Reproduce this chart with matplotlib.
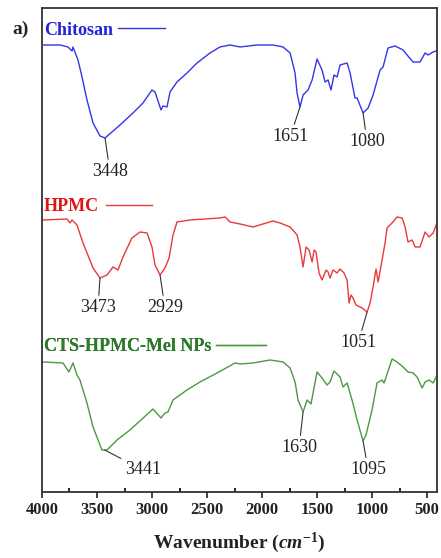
import matplotlib
matplotlib.use("Agg")
import matplotlib.pyplot as plt
from matplotlib.lines import Line2D

plt.rcParams['font.family'] = 'Liberation Serif'
plt.rcParams['mathtext.fontset'] = 'custom'
plt.rcParams['mathtext.rm'] = 'Liberation Serif:bold'
plt.rcParams['mathtext.it'] = 'Liberation Serif:italic:bold'

# FTIR spectra, stacked with arbitrary offsets (transmittance, a.u.)
wn_cts = [3988, 3836, 3764, 3727, 3718, 3673, 3636, 3591, 3536, 3473, 3427, 3364,
          3291, 3173, 3082, 3000, 2973, 2918, 2900, 2864, 2836, 2773, 2682, 2591,
          2473, 2382, 2291, 2200, 2045, 1900, 1809, 1745, 1700, 1682, 1655, 1627,
          1582, 1545, 1500, 1455, 1427, 1400, 1373, 1346, 1318, 1291, 1227, 1200,
          1155, 1136, 1082, 1036, 991, 927, 900, 855, 791, 718, 682, 627,
          564, 518, 491, 445, 391]
t_cts = [455, 455, 453, 449, 453, 440, 423, 400, 377, 364, 362, 368,
         375, 387, 397, 410, 408, 390, 394, 393, 408, 418, 427, 437,
         447, 453, 455, 453, 455, 455, 453, 447, 427, 407, 393, 405,
         410, 420, 441, 430, 418, 420, 410, 425, 423, 435, 437, 427,
         402, 402, 387, 392, 405, 430, 433, 452, 454, 450, 445, 438,
         438, 447, 445, 448, 450]

wn_hpmc = [3991, 3773, 3745, 3727, 3682, 3627, 3536, 3473, 3409, 3355, 3309, 3264,
           3182, 3109, 3045, 3000, 2973, 2927, 2882, 2845, 2809, 2773, 2655, 2382,
           2336, 2291, 2200, 2082, 1991, 1900, 1836, 1745, 1682, 1655, 1627, 1600,
           1573, 1545, 1527, 1509, 1482, 1455, 1418, 1400, 1382, 1355, 1318, 1291,
           1255, 1227, 1209, 1191, 1173, 1146, 1091, 1045, 1018, 991, 964, 945,
           909, 882, 864, 818, 773, 727, 700, 673, 636, 609, 564, 518,
           482, 445, 400]
t_hpmc = [280, 281, 277, 280, 275, 257, 232, 222, 225, 233, 230, 243,
          262, 268, 267, 253, 235, 225, 232, 242, 265, 278, 280, 282,
          283, 278, 276, 273, 276, 279, 277, 273, 265, 253, 233, 253,
          250, 238, 250, 248, 227, 220, 230, 228, 222, 230, 227, 231,
          227, 220, 197, 205, 202, 195, 192, 188, 197, 213, 231, 218,
          240, 257, 272, 277, 283, 282, 273, 258, 260, 253, 253, 268,
          263, 267, 280]

wn_np = [3991, 3809, 3755, 3718, 3682, 3655, 3591, 3536, 3455, 3409, 3318, 3200,
         2991, 2918, 2882, 2855, 2809, 2682, 2564, 2409, 2245, 2200, 2082, 1927,
         1809, 1745, 1700, 1673, 1627, 1591, 1555, 1500, 1455, 1409, 1382, 1346,
         1291, 1264, 1227, 1182, 1136, 1082, 1055, 1000, 955, 909, 891, 818,
         773, 718, 673, 627, 591, 545, 518, 482, 445, 409, 391]
t_np = [138, 137, 128, 137, 125, 120, 97, 73, 50, 50, 60, 70,
        91, 82, 87, 88, 100, 110, 118, 127, 137, 136, 137, 140,
        138, 132, 118, 100, 88, 100, 96, 128, 122, 115, 118, 129,
        123, 113, 117, 100, 80, 59, 65, 90, 117, 120, 117, 141,
        138, 133, 128, 127, 123, 112, 118, 120, 117, 125, 133]

names = ['Chitosan', 'HPMC', 'CTS-HPMC-Mel NPs']
colors = ['#3535e8', '#e83a3a', '#4a9a40']
text_colors = ['#2222dd', '#e01515', '#2f7a2a']

# peak labels: (label, peak wn, peak value, text wn, text value)
peaks_cts = [('3448', 3427, 362, 3382, 328), ('1651', 1655, 393, 1745, 363),
             ('1080', 1082, 387, 1045, 358)]
peaks_hpmc = [('3473', 3473, 222, 3491, 192), ('2929', 2927, 225, 2882, 192),
              ('1051', 1045, 188, 1127, 157)]
peaks_np = [('3441', 3430, 50, 3082, 30), ('1630', 1627, 88, 1664, 52),
            ('1095', 1082, 59, 1036, 30)]

fig = plt.figure(figsize=(4.41, 5.58), dpi=100)
ax = fig.add_axes([0.0952, 0.1183, 0.8957, 0.8674])

series = [(wn_cts, t_cts, peaks_cts), (wn_hpmc, t_hpmc, peaks_hpmc), (wn_np, t_np, peaks_np)]
legend_y = [0.972, 0.607, 0.318]
handle_len = [2.6, 2.55, 2.8]
handle_pad = [0.3, 0.4, 0.25]
for (wn, t, peaks), name, c, tc, ly, hl, hp in zip(series, names, colors, text_colors,
                                                   legend_y, handle_len, handle_pad):
    ax.plot(wn, t, color=c, lw=1.0, solid_joinstyle='round')
    for lab, px, py, tx, ty in peaks:
        ax.annotate(lab, xy=(px, py), xytext=(tx, ty), ha='center', va='center',
                    fontsize=13, color='#222222',
                    arrowprops=dict(arrowstyle='-', color='#333333', lw=0.8,
                                    shrinkA=1, shrinkB=0))
    leg = ax.legend(handles=[Line2D([], [], color=c, lw=1.0)], labels=[name],
                    loc='upper left', bbox_to_anchor=(0.005, ly), frameon=False,
                    markerfirst=False, handlelength=hl, handletextpad=hp,
                    borderpad=0, borderaxespad=0,
                    prop=dict(family='Liberation Serif', weight='bold', size=13))
    leg.get_texts()[0].set_color(tc)
    ax.add_artist(leg)

ax.set_xlim(4000, 410)
ax.set_ylim(8, 492)
ax.set_yticks([])
ax.set_xticks([4000, 3500, 3000, 2500, 2000, 1500, 1000, 500])
ax.set_xticks(range(3750, 400, -500), minor=True)
ax.tick_params(axis='x', which='major', direction='out', length=4, width=1.2,
               labelsize=12, pad=3, colors='#222222')
ax.tick_params(axis='x', which='minor', direction='in', length=3, width=1.2)
for lbl in ax.get_xticklabels():
    lbl.set_fontweight('bold')
for sp in ax.spines.values():
    sp.set_color('#333333')
    sp.set_linewidth(1.3)

ax.set_xlabel(r'Wavenumber ($\mathit{cm}^{\mathit{-1}}$)', fontsize=14,
              fontweight='bold', labelpad=9, color='#222222')
fig.text(12 / 441, 1 - 29 / 558, 'a)', fontsize=14, fontweight='bold',
         ha='left', va='center', color='#222222')

fig.savefig('out.png', dpi=100)
